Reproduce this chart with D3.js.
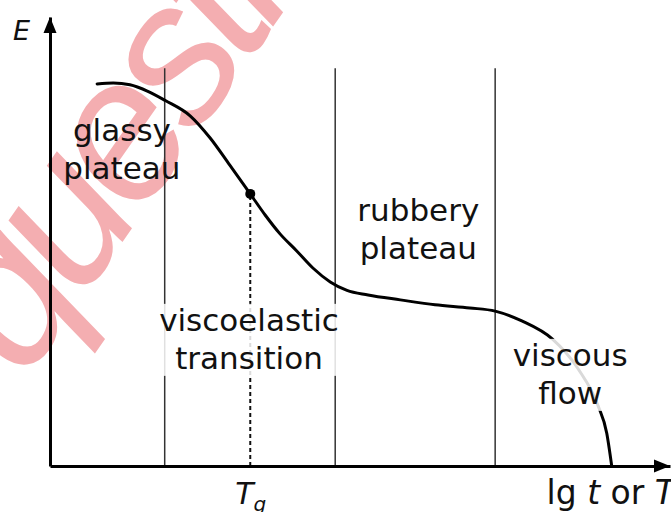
<!DOCTYPE html>
<html>
<head>
<meta charset="utf-8">
<script src="https://cdn.jsdelivr.net/npm/d3@7"></script>
<style>
  body { margin: 0; background: #fff; }
  text { font-family: "DejaVu Sans", Verdana, sans-serif; fill: #111; }
</style>
</head>
<body>
<div id="chart"></div>
<script>
var svgWidth = 671;
var svgHeight = 512;

// modulus curve (x: lg t or T, y: E, both in arbitrary units 0-100)
var curveX = [7.6, 10.2, 12.9, 15.7, 18.6, 22.6, 25.8, 29.0, 32.3, 34.7, 37.1, 39.8, 42.4, 45.2, 47.9, 51.3, 56.5, 62.1, 67.7, 71.8, 76.1, 81.0, 85.2, 88.4, 89.8, 90.6];
var curveY = [85.1, 85.3, 84.9, 83.5, 81.4, 78.0, 73.1, 67.0, 60.6, 55.9, 51.7, 47.9, 44.1, 41.0, 39.1, 38.1, 37.0, 35.9, 35.2, 34.5, 32.3, 28.3, 21.6, 13.4, 7.3, 0];

// region borders and glass transition
var borders = [18.5, 46.0, 71.8];
var borderTop = 88.6;
var tg = 32.3;
var tgE = 60.6;

// region labels (anchor = centre of first line, baseline)
var labelLines = [["glassy", "plateau"], ["rubbery", "plateau"], ["viscoelastic", "transition"], ["viscous", "flow"]];
var labelX = [11.6, 59.4, 32.1, 83.9];
var labelY = [72.4, 54.6, 30.1, 22.3];
var labelBoxed = [false, false, true, true];

var svg = d3.select("#chart")
    .append("svg")
    .attr("width", svgWidth)
    .attr("height", svgHeight);

var x = d3.scaleLinear().domain([0, 100]).range([50, 670]);
var y = d3.scaleLinear().domain([0, 100]).range([466, 17]);

// watermark
svg.append("text")
    .attr("transform", "translate(25, 381) rotate(-55)")
    .style("font-family", "'Liberation Sans', Arial, sans-serif")
    .style("font-size", "200px")
    .style("font-style", "italic")
    .style("letter-spacing", "-12px")
    .style("fill", "#f4aeb1")
    .text("questions");

// region border lines
svg.selectAll(".border")
    .data(borders)
    .enter()
    .append("line")
    .attr("class", "border")
    .attr("x1", d => x(d))
    .attr("x2", d => x(d))
    .attr("y1", y(0))
    .attr("y2", y(borderTop))
    .attr("stroke", "#333")
    .attr("stroke-width", 1.5);

// Tg dashed line
svg.append("line")
    .attr("x1", x(tg))
    .attr("x2", x(tg))
    .attr("y1", y(0))
    .attr("y2", y(tgE))
    .attr("stroke", "#111")
    .attr("stroke-width", 2)
    .attr("stroke-dasharray", "4,3");

// the curve
var points = curveX.map((d, i) => [d, curveY[i]]);
var line = d3.line()
    .x(d => x(d[0]))
    .y(d => y(d[1]))
    .curve(d3.curveMonotoneX);

svg.append("path")
    .datum(points)
    .attr("d", line)
    .attr("fill", "none")
    .attr("stroke", "#000")
    .attr("stroke-width", 3)
    .attr("stroke-linecap", "round");

svg.append("circle")
    .attr("cx", x(tg))
    .attr("cy", y(tgE))
    .attr("r", 5)
    .attr("fill", "#000");

// labels
labelLines.forEach((lines, i) => {
    var g = svg.append("g");
    var box = g.append("rect").attr("fill", "#fff").attr("opacity", 0.85);
    var t = g.append("text")
        .attr("text-anchor", "middle")
        .style("font-size", "31px");
    lines.forEach((s, j) => {
        t.append("tspan")
            .attr("x", x(labelX[i]))
            .attr("y", y(labelY[i]) + j * 38)
            .text(s);
    });
    if (labelBoxed[i]) {
        var bb = t.node().getBBox();
        box.attr("x", bb.x - 2).attr("y", bb.y + 2)
            .attr("width", bb.width + 4).attr("height", bb.height - 2);
    } else {
        box.remove();
    }
});

// axes
var bottomAxis = d3.axisBottom(x).ticks(0).tickSizeOuter(0);
var leftAxis = d3.axisLeft(y).ticks(0).tickSizeOuter(0);

svg.append("g")
    .attr("transform", `translate(0, ${y(0)})`)
    .call(bottomAxis)
    .select(".domain")
    .attr("stroke", "#000")
    .attr("stroke-width", 3);

svg.append("g")
    .attr("transform", `translate(${x(0)}, 0)`)
    .call(leftAxis)
    .select(".domain")
    .attr("stroke", "#000")
    .attr("stroke-width", 3);

// arrow heads
svg.append("path")
    .attr("d", `M${x(100)},${y(0)} L${x(100) - 16},${y(0) - 6.5} L${x(100) - 16},${y(0) + 6.5} Z`)
    .attr("fill", "#000");
svg.append("path")
    .attr("d", `M${x(0)},${y(100)} L${x(0) - 6.5},${y(100) + 16} L${x(0) + 6.5},${y(100) + 16} Z`)
    .attr("fill", "#000");

// axis labels
svg.append("text")
    .attr("x", 13)
    .attr("y", 40)
    .style("font-size", "27px")
    .style("font-style", "italic")
    .text("E");

var tgLabel = svg.append("text")
    .attr("x", x(tg) - 15)
    .attr("y", 504)
    .style("font-size", "30px");
tgLabel.append("tspan").style("font-style", "italic").text("T");
tgLabel.append("tspan").style("font-style", "italic").style("font-size", "20px").attr("dy", 7).text("g");

var xLabel = svg.append("text")
    .attr("x", 675)
    .attr("y", 504)
    .attr("text-anchor", "end")
    .style("font-size", "33px");
xLabel.append("tspan").text("lg ");
xLabel.append("tspan").style("font-style", "italic").text("t");
xLabel.append("tspan").text(" or ");
xLabel.append("tspan").style("font-style", "italic").text("T");
</script>
</body>
</html>
